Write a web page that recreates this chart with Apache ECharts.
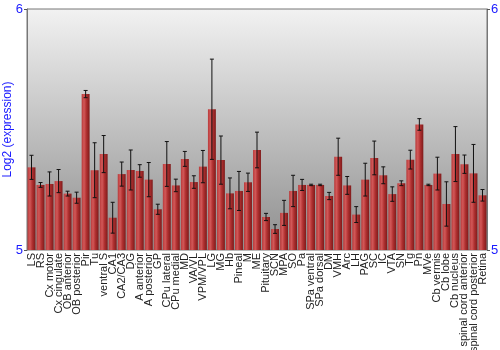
<!DOCTYPE html>
<html><head><meta charset="utf-8">
<script src="https://cdn.jsdelivr.net/npm/echarts@6/dist/echarts.min.js"></script>
<style>html,body{margin:0;padding:0;background:#fff}#c{width:500px;height:350px}</style>
</head><body><div id="c"></div>
<script>
const categories = ["LS","RS","Cx motor","Cx cingulate","OB anterior","OB posterior","Pir","Tu","ventral S","CA1","CA2/CA3","DG","A anterior","A posterior","GP","CPu lateral","CPu medial","MD","VA/VL","VPM/VPL","LG","MG","Hb","Pineal","M","ME","Pituitary","SCN","MPA","SO","Pa","SPa ventral","SPa dorsal","DM","VMH","Arc","LH","PAG","SC","IC","VTA","SN","Tg","Pn","MVe","Cb vermis","Cb lobe","Cb nucleus","spinal cord anterior","spinal cord posterior","Retina"];
const values = [5.343,5.270,5.274,5.286,5.234,5.217,5.647,5.331,5.398,5.134,5.315,5.332,5.328,5.292,5.169,5.357,5.268,5.378,5.282,5.346,5.584,5.373,5.235,5.245,5.281,5.415,5.137,5.087,5.154,5.245,5.270,5.270,5.270,5.224,5.387,5.268,5.147,5.292,5.382,5.310,5.232,5.277,5.375,5.521,5.270,5.317,5.191,5.398,5.356,5.318,5.227];
const errors = [0.050,0.010,0.050,0.048,0.010,0.023,0.015,0.114,0.077,0.064,0.050,0.083,0.026,0.071,0.021,0.093,0.026,0.031,0.026,0.067,0.208,0.100,0.064,0.081,0.038,0.074,0.015,0.018,0.052,0.065,0.023,0.003,0.003,0.015,0.077,0.037,0.033,0.068,0.070,0.035,0.030,0.010,0.039,0.024,0.003,0.068,0.092,0.114,0.038,0.120,0.024];
const yTicks = [5, 6];

const chart = echarts.init(document.getElementById('c'), null, {renderer:'canvas'});
const errData = values.map((v,i)=>[i, v-errors[i], v+errors[i]]);
const blue = '#1a1aff';
chart.setOption({
  animation:false,
  grid:{left:27,right:13,top:9,bottom:100,show:true,borderColor:'#777',borderWidth:1,
    containLabel:false,outerBoundsMode:'none',
    backgroundColor:new echarts.graphic.LinearGradient(0,0,0,1,[{offset:0,color:'#f2f2f2'},{offset:1,color:'#8e8e8e'}])},
  xAxis:{type:'category',data:categories,
    axisLine:{show:false},axisTick:{show:false},
    axisLabel:{rotate:90,interval:0,fontFamily:'Liberation Sans',fontSize:11,color:'#222',margin:3}},
  yAxis:[
    {type:'value',min:yTicks[0],max:yTicks[1],interval:1,position:'left',
     name:'Log2 (expression)',nameLocation:'middle',nameGap:13,nameMoveOverlap:false,
     nameTextStyle:{color:blue,fontFamily:'Liberation Sans',fontSize:12},
     axisLine:{show:true,lineStyle:{color:'#777'}},axisTick:{show:true,length:3,lineStyle:{color:'#555'}},
     splitLine:{show:false},
     axisLabel:{color:blue,fontFamily:'Liberation Sans',fontSize:13,margin:4}},
    {type:'value',min:yTicks[0],max:yTicks[1],interval:1,position:'right',
     axisLine:{show:true,lineStyle:{color:'#777'}},axisTick:{show:true,length:3,lineStyle:{color:'#555'}},
     splitLine:{show:false},
     axisLabel:{color:blue,fontFamily:'Liberation Sans',fontSize:13,margin:4}}
  ],
  series:[
    {type:'bar',data:values,barCategoryGap:'12%',
     itemStyle:{color:new echarts.graphic.LinearGradient(0,0,1,0,[
       {offset:0,color:'#b83a3a'},{offset:0.3,color:'#d25858'},{offset:0.6,color:'#b03030'},{offset:1,color:'#7e1a1a'}])}},
    {type:'custom',data:errData,z:5,
     renderItem:function(params,api){
       const x=api.coord([api.value(0),api.value(1)])[0];
       const lo=api.coord([api.value(0),api.value(1)])[1];
       const hi=api.coord([api.value(0),api.value(2)])[1];
       const w=2;
       const st={stroke:'#111',lineWidth:1};
       return {type:'group',children:[
         {type:'line',shape:{x1:x,y1:lo,x2:x,y2:hi},style:st},
         {type:'line',shape:{x1:x-w,y1:lo,x2:x+w,y2:lo},style:st},
         {type:'line',shape:{x1:x-w,y1:hi,x2:x+w,y2:hi},style:st}
       ]};
     }}
  ]
});
</script></body></html>
